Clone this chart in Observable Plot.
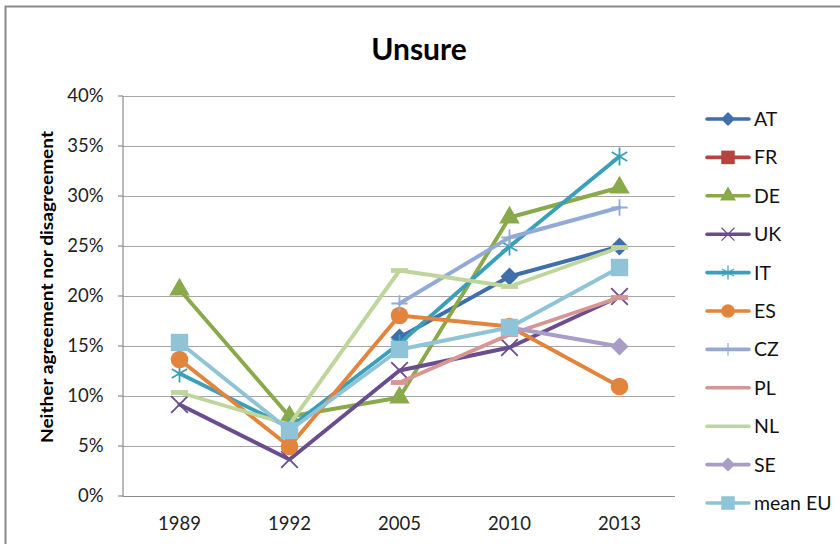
<!DOCTYPE html>
<html>
<head>
<meta charset="utf-8">
<script src="https://cdn.jsdelivr.net/npm/d3@7"></script>
<script src="https://cdn.jsdelivr.net/npm/@observablehq/plot@0.6"></script>
<style>
  html, body { margin: 0; padding: 0; background: #fff; }
  svg { display: block; }
</style>
</head>
<body>
<div id="chart"></div>
<script>
const years = ["1989", "1992", "2005", "2010", "2013"];
const seriesNames = ["AT", "FR", "DE", "UK", "IT", "ES", "CZ", "PL", "NL", "SE", "mean EU"];
const seriesColors = ["#3f6fab", "#b5443f", "#89a94a", "#6a4d8f", "#3a9fb8", "#e3843c", "#93aad6", "#d79593", "#bed69c", "#a99cc5", "#8fc3d7"];
const seriesSymbols = ["diamond2", "square", "triangle", "times", "asterisk", "circle", "plus", "dash", "dash", "diamond2", "square"];
// values in percent per year (null = no data)
const AT = [null, null, 15.9, 22.0, 25.0];
const FR = [null, null, null, null, null];
const DE = [20.7, 8.0, 9.9, 27.9, 30.9];
const UK = [9.2, 3.7, 12.6, 14.9, 20.0];
const IT = [12.3, 6.9, 15.3, 25.0, 34.0];
const ES = [13.7, 5.0, 18.1, 17.0, 11.0];
const CZ = [null, null, 19.3, 25.9, 28.9];
const PL = [null, null, 11.4, 16.2, 19.9];
const NL = [10.4, 7.2, 22.6, 21.0, 24.9];
const SE = [null, null, null, 16.9, 15.0];
const meanEU = [15.4, 6.6, 14.7, 16.9, 22.9];
const yTicks = [0, 5, 10, 15, 20, 25, 30, 35, 40];

const seriesValues = [AT, FR, DE, UK, IT, ES, CZ, PL, NL, SE, meanEU];
const rows = [];
seriesNames.forEach((name, i) => {
  seriesValues[i].forEach((v, j) => {
    if (v != null) rows.push({series: name, idx: i, year: years[j], value: v / 100});
  });
});

const W = 840, H = 544;
const font = "Lato, 'Open Sans', sans-serif";
const dashSymbol = {
  draw(context, size) {
    const r = Math.sqrt(size / Math.PI);
    const h = r * 0.28;
    context.moveTo(-r, -h); context.lineTo(r, -h); context.lineTo(r, h); context.lineTo(-r, h); context.closePath();
  }
};
const symObj = {diamond2: d3.symbolDiamond2, square: d3.symbolSquare, triangle: d3.symbolTriangle, times: d3.symbolTimes, asterisk: d3.symbolAsterisk, circle: d3.symbolCircle, plus: d3.symbolPlus, dash: dashSymbol};
const fillSyms = new Set(["diamond2", "square", "triangle", "circle", "dash"]);
const symR = {diamond2: 8.1, square: 9.8, triangle: 7.6, times: 7.6, asterisk: 8.5, circle: 8.8, plus: 5.3, dash: 8.6};
const yTickVals = yTicks.map(d => d / 100);

const plot = Plot.plot({
  width: W,
  height: H,
  marginLeft: 123,
  marginRight: 165,
  marginTop: 96,
  marginBottom: 48,
  style: {fontFamily: font, background: "#fff", overflow: "visible"},
  x: {type: "band", domain: years, padding: 0, label: null},
  y: {domain: [0, 0.4], label: null},
  color: {domain: seriesNames, range: seriesColors},
  marks: [
    Plot.gridY(yTickVals, {stroke: "#a6a6a6", strokeOpacity: 1, strokeWidth: 1.2}),
    Plot.ruleY([0], {stroke: "#8c8c8c", strokeWidth: 1.2}),
    ...seriesNames.flatMap((name, i) => {
      const sym = seriesSymbols[i];
      const data = rows.filter(r => r.series === name);
      const filled = fillSyms.has(sym);
      return [
        Plot.line(data, {x: "year", y: "value", stroke: seriesColors[i], strokeWidth: 3.9, curve: "linear"}),
        Plot.dot(data, {
          x: "year", y: "value", symbol: symObj[sym], r: symR[sym],
          fill: filled ? seriesColors[i] : "none",
          stroke: filled ? "none" : seriesColors[i],
          strokeWidth: filled ? 0 : 1.8
        })
      ];
    }),
    Plot.axisX({tickSize: 0, tickPadding: 20, fontSize: 18.5, fill: "#222", tickFormat: d => d}),
    Plot.axisY(yTickVals, {tickSize: 0, tickPadding: 20, fontSize: 18.5, fill: "#222", tickFormat: d => Math.round(d * 100) + "%"})
  ]
});

const svg = d3.select(plot);
const y = plot.scale("y");

// left axis line and small tick marks
svg.append("line").attr("x1", 123).attr("x2", 123).attr("y1", 96).attr("y2", 496.5).attr("stroke", "#8c8c8c").attr("stroke-width", 1.2);
yTicks.forEach(t => {
  const yy = y.apply(t / 100);
  svg.append("line").attr("x1", 118).attr("x2", 123).attr("y1", yy).attr("y2", yy).attr("stroke", "#8c8c8c").attr("stroke-width", 1.2);
});

// outer frame
svg.append("rect").attr("x", 5.5).attr("y", 6.5).attr("width", 850).attr("height", 560)
  .attr("fill", "none").attr("stroke", "#8a8a8a").attr("stroke-width", 2);

// title
svg.append("text").attr("x", 419).attr("y", 60).attr("text-anchor", "middle")
  .attr("font-family", font).attr("font-weight", "bold").attr("font-size", 30).attr("fill", "#000").text("Unsure");

// y-axis label
svg.append("text").attr("transform", "translate(53,287) rotate(-90)").attr("text-anchor", "middle")
  .attr("font-family", font).attr("font-weight", "bold").attr("font-size", 17.5).attr("fill", "#000")
  .attr("textLength", 312).attr("lengthAdjust", "spacingAndGlyphs")
  .text("Neither agreement nor disagreement");

// legend
const lg = svg.append("g");
seriesNames.forEach((name, i) => {
  const yy = 119 + i * 38.4;
  const c = seriesColors[i];
  lg.append("line").attr("x1", 707).attr("x2", 749).attr("y1", yy).attr("y2", yy)
    .attr("stroke", c).attr("stroke-width", 3.6).attr("stroke-linecap", "round");
  const sym = seriesSymbols[i];
  if (sym && sym !== "dash") {
    const filled = fillSyms.has(sym);
    const rr = symR[sym] * 0.78;
    lg.append("path").attr("d", d3.symbol(symObj[sym], Math.PI * rr * rr)())
      .attr("transform", `translate(728,${yy})`)
      .attr("fill", filled ? c : "none").attr("stroke", filled ? "none" : c).attr("stroke-width", filled ? 0 : 1.2);
  }
  lg.append("text").attr("x", 754).attr("y", yy).attr("dy", "0.36em").attr("text-anchor", "start")
    .attr("font-family", font).attr("font-size", 19.5).attr("fill", "#111").text(name);
});

document.getElementById("chart").appendChild(plot);
</script>
</body>
</html>
